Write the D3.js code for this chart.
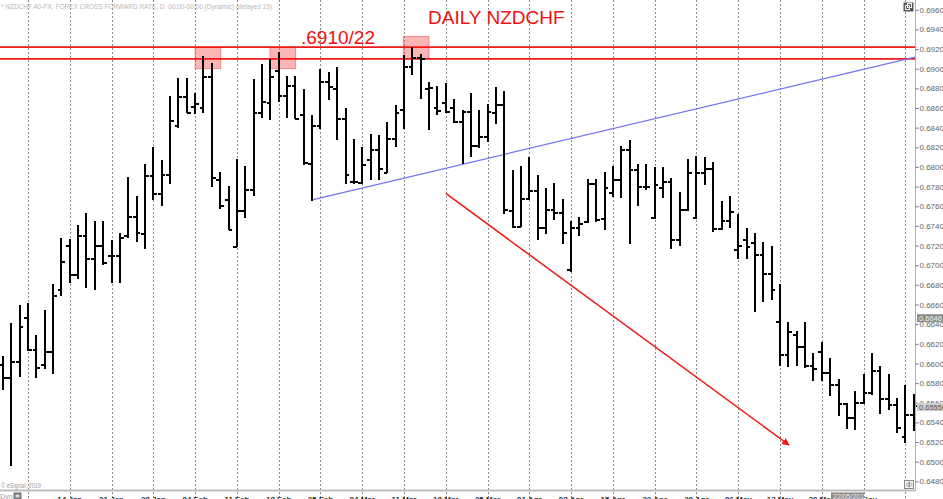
<!DOCTYPE html>
<html><head><meta charset="utf-8">
<script src="https://cdn.jsdelivr.net/npm/d3@7"></script>
<style>
body{margin:0;background:#fff;}
svg{display:block;font-family:"Liberation Sans",Arial,sans-serif;}
</style>
</head><body>
<svg id="chart" width="943" height="499"></svg>
<script>
// ---------------- DATA (daily NZDCHF, first bar = Wed 02 Jan 2019) ----------------
const firstDate = "2019-01-02";
const openP = [0.6598,0.6585,0.6601,0.6646,0.6614,0.6598,0.6612,0.6675,0.6720,0.6690,
  0.6730,0.6706,0.6720,0.6709,0.6709,0.6730,0.6749,0.6732,0.6791,0.6772,
  0.6792,0.6842,0.6871,0.6861,0.6860,0.6892,0.6787,0.6766,0.6719,0.6755,
  0.6777,0.6855,0.6865,0.6898,0.6872,0.6882,0.6853,0.6803,0.6842,0.6886,
  0.6879,0.6849,0.6785,0.6784,0.6807,0.6817,0.6794,0.6828,0.6858,0.6902,
  0.6911,0.6879,0.6860,0.6865,0.6860,0.6846,0.6856,0.6821,0.6830,0.6855,
  0.6863,0.6755,0.6739,0.6767,0.6776,0.6738,0.6756,0.6753,0.6695,0.6738,
  0.6744,0.6783,0.6747,0.6773,0.6787,0.6817,0.6797,0.6780,0.6748,0.6779,
  0.6785,0.6726,0.6756,0.6748,0.6794,0.6798,0.6737,0.6745,0.6715,0.6726,
  0.6723,0.6710,0.6691,0.6642,0.6609,0.6629,0.6617,0.6597,0.6612,0.6590,
  0.6578,0.6559,0.6544,0.6560,0.6570,0.6592,0.6564,0.6558,0.6525,0.6548];
const highP = [0.6607,0.6641,0.6659,0.6661,0.6628,0.6654,0.6680,0.6727,0.6726,0.6740,
  0.6753,0.6744,0.6744,0.6725,0.6732,0.6789,0.6770,0.6803,0.6820,0.6807,
  0.6872,0.6890,0.6890,0.6875,0.6912,0.6905,0.6794,0.6780,0.6808,0.6800,
  0.6889,0.6904,0.6909,0.6916,0.6892,0.6892,0.6879,0.6852,0.6899,0.6896,
  0.6901,0.6859,0.6828,0.6820,0.6833,0.6832,0.6845,0.6863,0.6913,0.6922,
  0.6914,0.6886,0.6882,0.6885,0.6869,0.6857,0.6875,0.6857,0.6864,0.6881,
  0.6877,0.6796,0.6800,0.6810,0.6791,0.6778,0.6783,0.6767,0.6744,0.6749,
  0.6787,0.6787,0.6794,0.6800,0.6821,0.6827,0.6802,0.6802,0.6799,0.6799,
  0.6788,0.6774,0.6808,0.6811,0.6810,0.6805,0.6765,0.6770,0.6752,0.6737,
  0.6732,0.6723,0.6719,0.6680,0.6642,0.6633,0.6642,0.6610,0.6621,0.6605,
  0.6584,0.6559,0.6571,0.6589,0.6610,0.6597,0.6589,0.6564,0.6578,0.6568];
const lowP = [0.6573,0.6496,0.6587,0.6613,0.6586,0.6595,0.6590,0.6669,0.6682,0.6686,
  0.6677,0.6675,0.6701,0.6682,0.6682,0.6728,0.6724,0.6717,0.6767,0.6761,
  0.6783,0.6840,0.6855,0.6854,0.6855,0.6780,0.6758,0.6736,0.6719,0.6749,
  0.6771,0.6850,0.6848,0.6867,0.6850,0.6849,0.6803,0.6766,0.6839,0.6869,
  0.6828,0.6783,0.6783,0.6783,0.6787,0.6787,0.6794,0.6821,0.6839,0.6894,
  0.6870,0.6838,0.6853,0.6855,0.6845,0.6804,0.6811,0.6820,0.6826,0.6844,
  0.6753,0.6738,0.6739,0.6767,0.6726,0.6732,0.6747,0.6722,0.6694,0.6730,
  0.6743,0.6744,0.6736,0.6770,0.6769,0.6722,0.6761,0.6777,0.6748,0.6769,
  0.6717,0.6720,0.6756,0.6748,0.6782,0.6734,0.6736,0.6738,0.6707,0.6707,
  0.6653,0.6663,0.6665,0.6598,0.6597,0.6598,0.6596,0.6583,0.6583,0.6567,
  0.6547,0.6534,0.6533,0.6559,0.6568,0.6549,0.6553,0.6530,0.6520,0.6532];
const closeP = [0.6585,0.6601,0.6637,0.6614,0.6595,0.6612,0.6669,0.6703,0.6690,0.6730,
  0.6706,0.6720,0.6702,0.6709,0.6728,0.6749,0.6733,0.6791,0.6772,0.6792,
  0.6847,0.6871,0.6855,0.6864,0.6892,0.6789,0.6760,0.6736,0.6755,0.6777,
  0.6855,0.6866,0.6892,0.6872,0.6882,0.6849,0.6804,0.6842,0.6886,0.6881,
  0.6849,0.6792,0.6785,0.6802,0.6817,0.6798,0.6828,0.6855,0.6902,0.6911,
  0.6910,0.6880,0.6857,0.6856,0.6846,0.6856,0.6821,0.6830,0.6856,0.6863,
  0.6756,0.6739,0.6767,0.6776,0.6738,0.6756,0.6753,0.6733,0.6738,0.6742,
  0.6783,0.6746,0.6779,0.6787,0.6817,0.6797,0.6780,0.6780,0.6782,0.6785,
  0.6726,0.6756,0.6794,0.6794,0.6798,0.6737,0.6745,0.6754,0.6720,0.6719,
  0.6710,0.6691,0.6675,0.6609,0.6632,0.6617,0.6597,0.6594,0.6590,0.6578,
  0.6559,0.6544,0.6560,0.6570,0.6592,0.6564,0.6558,0.6534,0.6548,0.6557];

const resistanceLevels = [0.6910, 0.6922];
const yTickValues = [0.696,0.694,0.692,0.690,0.688,0.686,0.684,0.682,0.680,0.678,0.676,0.674,
  0.672,0.670,0.668,0.666,0.664,0.662,0.660,0.658,0.656,0.654,0.652,0.650,0.648];
// trend lines: [bar index, price]
const blueTrend = [[37, 0.67665], [109.27, 0.6912]];
const redArrow = [[53.0, 0.6773], [94.07, 0.6517]];
// highlight boxes: [bar start, bar end, price low, price high]
const topBoxes = [[23.0, 26.07, 0.6900, 0.6922], [31.96, 35.04, 0.6900, 0.6922], [47.91, 50.99, 0.6910, 0.6933]];
const priceMarkers = [{v:0.66461, label:"0.66461", dark:true}, {v:0.65556, label:"0.65556", dark:false}];
const cursorDate = "22/05/2019";

// ---------------- CHART ----------------
const W = 943, H = 499, plotR = 915.5, plotB = 490.5;
const svg = d3.select("#chart");
svg.append("rect").attr("width", W).attr("height", H).attr("fill", "#fff");

const n = openP.length;
const dates = [];
for (let t = new Date(firstDate + "T00:00:00Z"); dates.length < n; t = new Date(t.getTime() + 864e5)) {
  const wd = t.getUTCDay();
  if (wd > 0 && wd < 6) dates.push(t);
}
const x = d3.scaleLinear().domain([0, n - 1]).range([2.93, 2.93 + (n - 1) * 8.356]);
const y = d3.scaleLinear().domain([0.648, 0.696]).range([481.35, 9.75]);

// vertical dashed week grid (Mondays)
const mondays = d3.range(n).filter(i => dates[i].getUTCDay() === 1);
mondays.push(mondays[mondays.length - 1] + 5);
svg.append("g").selectAll("line").data(mondays).join("line")
  .attr("x1", i => Math.round(x(i)) + 0.5).attr("x2", i => Math.round(x(i)) + 0.5)
  .attr("y1", 0).attr("y2", 499)
  .attr("stroke", "#8a8a8a").attr("stroke-width", 1).attr("stroke-dasharray", "2,2");

// header
svg.append("text").attr("x", 1).attr("y", 8.5).attr("font-size", 7.5).attr("fill", "#b8b8b8")
  .attr("textLength", 271).attr("lengthAdjust", "spacingAndGlyphs")
  .text("* NZDCHF A0-FX, FOREX CROSS FORWARD RATE, D, 00:00-00:00 (Dynamic) (delayed 15)");

// highlight boxes
svg.append("g").selectAll("rect").data(topBoxes).join("rect")
  .attr("x", d => x(d[0])).attr("width", d => x(d[1]) - x(d[0]))
  .attr("y", d => y(d[3])).attr("height", d => y(d[2]) - y(d[3]))
  .attr("fill", "rgba(245,90,90,0.45)").attr("stroke", "rgba(235,80,80,0.7)").attr("stroke-width", 0.8);

// resistance lines
svg.append("g").selectAll("line").data(resistanceLevels).join("line")
  .attr("x1", 0).attr("x2", plotR).attr("y1", d => y(d)).attr("y2", d => y(d))
  .attr("stroke", "#f01818").attr("stroke-width", 1.6);

// blue trend line
svg.append("line")
  .attr("x1", x(blueTrend[0][0])).attr("y1", y(blueTrend[0][1]))
  .attr("x2", x(blueTrend[1][0])).attr("y2", y(blueTrend[1][1]))
  .attr("stroke", "#7474f4").attr("stroke-width", 1.2);

// red arrow
svg.append("defs").append("marker").attr("id", "arr").attr("viewBox", "0 0 10 10")
  .attr("refX", 9).attr("refY", 5).attr("markerWidth", 5).attr("markerHeight", 5)
  .attr("orient", "auto").attr("markerUnits", "strokeWidth")
  .append("path").attr("d", "M0,0 L10,5 L0,10 z").attr("fill", "#f01818");
svg.append("line")
  .attr("x1", x(redArrow[0][0])).attr("y1", y(redArrow[0][1]))
  .attr("x2", x(redArrow[1][0])).attr("y2", y(redArrow[1][1]))
  .attr("stroke", "#f01818").attr("stroke-width", 1.5).attr("marker-end", "url(#arr)");

// OHLC bars
const bars = svg.append("g").attr("shape-rendering", "crispEdges");
const idx = d3.range(n);
bars.selectAll("line.hl").data(idx).join("line").attr("class", "hl")
  .attr("x1", i => x(i)).attr("x2", i => x(i))
  .attr("y1", i => y(highP[i]) - 0.5).attr("y2", i => y(lowP[i]) + 0.5)
  .attr("stroke", "#000").attr("stroke-width", 2);
bars.selectAll("line.op").data(idx).join("line").attr("class", "op")
  .attr("x1", i => x(i) - 3.8).attr("x2", i => x(i))
  .attr("y1", i => y(openP[i])).attr("y2", i => y(openP[i]))
  .attr("stroke", "#000").attr("stroke-width", 2);
bars.selectAll("line.cl").data(idx).join("line").attr("class", "cl")
  .attr("x1", i => x(i)).attr("x2", i => x(i) + 3.8)
  .attr("y1", i => y(closeP[i])).attr("y2", i => y(closeP[i]))
  .attr("stroke", "#000").attr("stroke-width", 2);

// annotations
svg.append("text").attr("x", 301).attr("y", 43.5).attr("font-size", 19).attr("fill", "#f01010")
  .text(".6910/22");
svg.append("text").attr("x", 428).attr("y", 23.5).attr("font-size", 19).attr("fill", "#f01010")
  .text("DAILY NZDCHF");

// right price axis
svg.append("line").attr("x1", plotR).attr("x2", plotR).attr("y1", 0).attr("y2", plotB)
  .attr("stroke", "#b0b0b0").attr("stroke-width", 1);
const covered = v => priceMarkers.some(m => Math.abs(y(m.v) - y(v)) < 4);
const yAxis = d3.axisRight(y).tickValues(yTickValues).tickSize(3).tickPadding(1)
  .tickFormat(d => covered(d) ? "" : d3.format(".5f")(d));
const ya = svg.append("g").attr("transform", `translate(${plotR},0)`).call(yAxis);
ya.select(".domain").remove();
ya.selectAll("line").attr("stroke", "#777");
ya.selectAll("text").attr("font-size", 8).attr("fill", "#666")
  .attr("font-family", "'Liberation Sans',Arial,sans-serif");

// price marker boxes
const pm = svg.append("g").selectAll("g").data(priceMarkers).join("g")
  .attr("transform", d => `translate(917,${y(d.v)})`);
pm.append("rect").attr("x", 0).attr("y", -4).attr("width", 28).attr("height", 8)
  .attr("fill", d => d.dark ? "#8c8c8c" : "#cfcfcf");
pm.append("text").attr("x", 2).attr("y", 2.6).attr("font-size", 7.5)
  .attr("fill", d => d.dark ? "#eee" : "#555").text(d => d.label);

// bottom time axis
svg.append("line").attr("x1", 0).attr("x2", plotR).attr("y1", plotB).attr("y2", plotB)
  .attr("stroke", "#bdbdbd").attr("stroke-width", 2);
const labelIdx = mondays.filter(i => i > 3 && i < n - 2);
const fmt = d3.utcFormat("%d %b");
svg.append("g").selectAll("text").data(labelIdx).join("text")
  .attr("x", i => x(i)).attr("y", 501.5).attr("text-anchor", "middle")
  .attr("font-size", 8).attr("font-weight", "bold").attr("fill", "#333")
  .text(i => fmt(dates[i]));

// cursor date box
svg.append("rect").attr("x", 831).attr("y", 492.5).attr("width", 33).attr("height", 8).attr("fill", "#8c8c8c");
svg.append("text").attr("x", 833).attr("y", 499).attr("font-size", 7).attr("fill", "#eee").text(cursorDate);

// footer bits
svg.append("text").attr("x", 1).attr("y", 488).attr("font-size", 6.5).attr("fill", "#a0a0a0")
  .attr("textLength", 40).attr("lengthAdjust", "spacingAndGlyphs").text("© eSignal, 2019");
svg.append("text").attr("x", 0).attr("y", 499).attr("font-size", 7).attr("fill", "#a0a0a0").text("Dyn");
svg.append("rect").attr("x", 13.5).attr("y", 492.5).attr("width", 8).attr("height", 7).attr("fill", "#777");
svg.append("rect").attr("x", 15.5).attr("y", 494.5).attr("width", 4).attr("height", 3).attr("fill", "#ddd");
// top-right icon
svg.append("rect").attr("x", 903.5).attr("y", 2.5).attr("width", 10).attr("height", 9).attr("fill", "#555");
svg.append("rect").attr("x", 905.5).attr("y", 5.5).attr("width", 4).attr("height", 4).attr("fill", "none").attr("stroke", "#eee");
svg.append("rect").attr("x", 907.5).attr("y", 3.5).attr("width", 4).attr("height", 4).attr("fill", "none").attr("stroke", "#eee");
// bottom-right icon
svg.append("rect").attr("x", 904.5).attr("y", 480.5).attr("width", 9).attr("height", 8).attr("fill", "#f4f4f4").attr("stroke", "#888");
svg.append("path").attr("d", "M906,484.5 L909,482 L909,487 Z M912,484.5 L909.5,482 L909.5,487 Z").attr("fill", "none").attr("stroke", "#888").attr("stroke-width", 0.8);
</script>
</body></html>
